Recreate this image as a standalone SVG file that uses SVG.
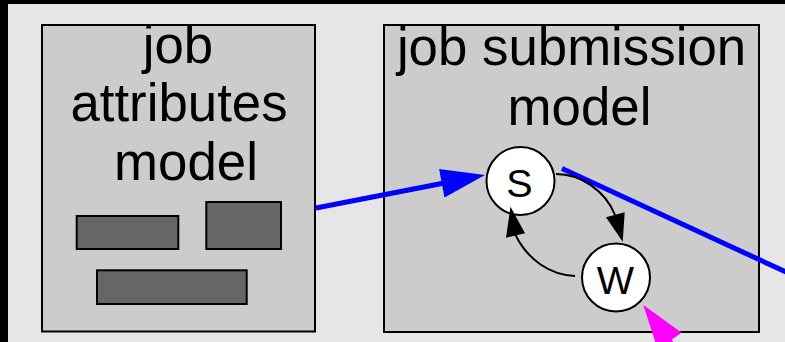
<svg xmlns="http://www.w3.org/2000/svg" width="785" height="342" viewBox="0 0 785 342">
<style>
.box{fill:#cccccc;stroke:#000;stroke-width:2}
.blk{fill:#666666;stroke:#000;stroke-width:2}
.lbl{font-family:"Liberation Sans",Arial,sans-serif;font-size:52.8px;text-anchor:middle;fill:#000}
.st{fill:#fff;stroke:#000;stroke-width:2}
.stl{font-family:"Liberation Sans",Arial,sans-serif;font-size:39.5px;text-anchor:middle;fill:#000}
.blue{stroke:#0000ff;stroke-width:5;fill:none}
.mag{stroke:#ff00ff;stroke-width:5;fill:none}
.thin{stroke:#000;stroke-width:2;fill:none}
</style>
<rect x="0" y="0" width="785" height="342" fill="#000"/>
<rect x="8" y="4" width="777" height="338" fill="#e6e6e6"/>
<g id="job-attributes-model">
<rect class="box" x="42" y="25" width="273" height="306.5"/>
<text class="lbl" x="178" y="62.5">job</text>
<text class="lbl" x="179" y="120.5">attributes</text>
<text class="lbl" x="186" y="179.5">model</text>
<rect class="blk" x="76.7" y="216" width="101.6" height="33"/>
<rect class="blk" x="206.3" y="202" width="74.7" height="47"/>
<rect class="blk" x="97" y="270.3" width="149.7" height="33.7"/>
</g>
<g id="job-submission-model">
<rect class="box" x="384" y="25" width="375" height="307"/>
<text class="lbl" x="571.5" y="65">job submission</text>
<text class="lbl" x="579.5" y="124.5">model</text>
</g>
<g id="state-S">
<circle class="st" cx="520.5" cy="181" r="34"/>
<text class="stl" x="519.5" y="197">S</text>
</g>
<g id="state-W">
<circle class="st" cx="616" cy="277.5" r="34"/>
<text class="stl" x="615.5" y="294">W</text>
</g>
<g id="connectors">
<line class="blue" x1="316" y1="208" x2="443" y2="183.3"/>
<polygon fill="#0000ff" points="485,175 439.1,169 444.5,197.5"/>
<line class="blue" x1="562" y1="168.5" x2="800" y2="278.5"/>
<line class="mag" x1="667" y1="337.5" x2="690" y2="369"/>
<polygon fill="#ff00ff" points="643.3,305 681.7,332.7 657.6,349"/>
<path class="thin" d="M556,174 C580,174 605,190 615,215"/>
<polygon fill="#000" points="622.7,241.7 606,217.3 624.7,212.3"/>
<path class="thin" d="M575,276 C550,275 528,260 515.5,235"/>
<polygon fill="#000" points="510.5,206.7 506,237.7 525,233.3"/>
</g>
</svg>
